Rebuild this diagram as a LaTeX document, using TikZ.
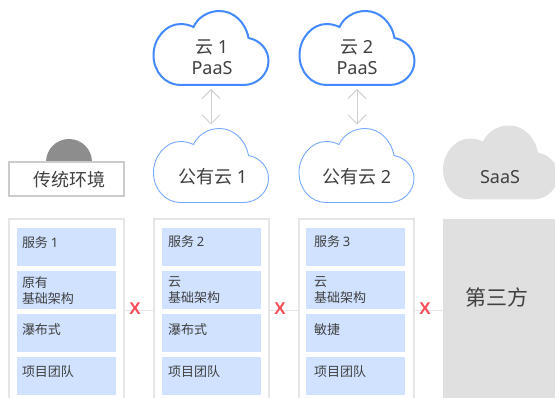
\documentclass[tikz,border=0pt]{standalone}
\usepackage{fontspec}
\setmainfont{Noto Sans CJK SC}
\newfontfamily\latinf{Noto Sans}
\newfontfamily\xfont{Liberation Sans}
\usetikzlibrary{arrows.meta}
\definecolor{ink}{HTML}{404040}
\definecolor{bluedark}{HTML}{4589FF}
\definecolor{bluelight}{HTML}{78A9FF}
\definecolor{greyfill}{HTML}{E0E0E0}
\definecolor{panelline}{HTML}{E6E6E6}
\definecolor{bluefill}{HTML}{D0E2FF}
\definecolor{arrowgrey}{HTML}{CFCFCF}
\definecolor{crossred}{HTML}{FA4D56}
\definecolor{domegrey}{HTML}{8D8D8D}
\definecolor{legacyline}{HTML}{CCCCCC}
\tikzset{
  every node/.style={inner sep=0pt,outer sep=0pt,text=ink},
  cloudtext/.style={align=center,font=\fontsize{18}{21}\selectfont},
  panel/.style={draw=panelline,line width=1.6pt,fill=white,minimum width=115pt,minimum height=183pt,anchor=north west},
  cell/.style={fill=bluefill,minimum width=99pt,minimum height=38pt,anchor=north west},
  celltext/.style={anchor=west,align=left,font=\fontsize{13}{16}\selectfont},
  link/.style={draw=panelline,line width=1.2pt},
  cross/.style={font=\xfont\bfseries\fontsize{17}{17}\selectfont,text=crossred},
  swap/.style={draw=arrowgrey,line width=1pt,{Straight Barb[width=18pt,length=9pt]}-{Straight Barb[width=18pt,length=9pt]}},
  pics/cloudshape/.style={code={
    \path[pic actions] (27,75) -- (90,75) .. controls (104,75) and (115,64) .. (115,51)
      .. controls (115,39) and (106,30) .. (95,28) .. controls (92,12) and (80,1) .. (66,1)
      .. controls (54,1) and (44,8) .. (40,17) .. controls (36,15) and (31,14) .. (27,14)
      .. controls (12,14) and (0,29) .. (0,45) .. controls (0,62) and (12,75) .. (27,75) -- cycle;
  }}
}
\begin{document}
\begin{tikzpicture}[x=1pt,y=-1pt]
\useasboundingbox (0,0) rectangle (555,398);
\clip (0,0) rectangle (555,398);
% clouds
\pic[draw=bluedark,line width=2pt,fill=white] at (153.5,10) {cloudshape};
\pic[draw=bluedark,line width=2pt,fill=white] at (299.5,10) {cloudshape};
\pic[draw=bluelight,line width=0.9pt,fill=white] at (153.5,127.5) {cloudshape};
\pic[draw=bluelight,line width=0.9pt,fill=white] at (299,127.5) {cloudshape};
\pic[fill=greyfill] at (443,124.5) {cloudshape};
\node[cloudtext] (c1) at (212,57) {云 {\latinf 1}\\{\latinf PaaS}};
\node[cloudtext] (c2) at (357,57) {云 {\latinf 2}\\{\latinf PaaS}};
\node[cloudtext] (pub1) at (213,177) {公有云 {\latinf 1}};
\node[cloudtext] (pub2) at (357,177) {公有云 {\latinf 2}};
\node[cloudtext,font=\latinf\fontsize{18}{21}\selectfont] (saas) at (500,177) {SaaS};
\coordinate (c1b) at (211,89);
\coordinate (p1t) at (211,124.5);
\coordinate (c2b) at (357,89);
\coordinate (p2t) at (357,124.5);
\draw[swap] (c1b) -- (p1t);
\draw[swap] (c2b) -- (p2t);
% legacy
\fill[domegrey] (46,162) arc[start angle=180,end angle=360,radius=23];
\node[draw=legacyline,line width=1.2pt,fill=white,minimum width=115pt,minimum height=34pt,anchor=north west] (legacy) at (9,162) {};
\node[font=\fontsize{18}{21}\selectfont] (legacytext) at (69.5,180) {传统环境};
% panels
\node[panel] (p1) at (9,219) {};
\node[panel] (p2) at (154,219) {};
\node[panel] (p3) at (299,219) {};
\node[fill=greyfill,minimum width=112pt,minimum height=183pt,anchor=north west] (third) at (443,219) {};
\node[font=\fontsize{21}{24}\selectfont] (thirdtext) at (497,297) {第三方};
\draw[link] (p1.east) -- (p2.west);
\draw[link] (p2.east) -- (p3.west);
\draw[link] (p3.east) -- (third.west);
\node[cross] (x1) at (135,309) {X};
\node[cross] (x2) at (280,309) {X};
\node[cross] (x3) at (425,309) {X};
% cells
\foreach \n/\x in {a/17,b/162,c/306}{
  \node[cell] (\n1) at (\x,228) {};
  \node[cell] (\n2) at (\x,271) {};
  \node[cell] (\n3) at (\x,314) {};
  \node[cell] (\n4) at (\x,357) {};
}
\node[celltext] (ta1) at (22,243) {服务 {\latinf 1}};
\node[celltext] (ta2) at (22,291) {原有\\基础架构};
\node[celltext] (ta3) at (22,330) {瀑布式};
\node[celltext] (ta4) at (22,372) {项目团队};
\node[celltext] (tb1) at (168,242) {服务 {\latinf 2}};
\node[celltext] (tb2) at (168,290) {云\\基础架构};
\node[celltext] (tb3) at (168,330) {瀑布式};
\node[celltext] (tb4) at (168,372) {项目团队};
\node[celltext] (tc1) at (314,242) {服务 {\latinf 3}};
\node[celltext] (tc2) at (314,290) {云\\基础架构};
\node[celltext] (tc3) at (314,330) {敏捷};
\node[celltext] (tc4) at (314,372) {项目团队};
\end{tikzpicture}
\end{document}
